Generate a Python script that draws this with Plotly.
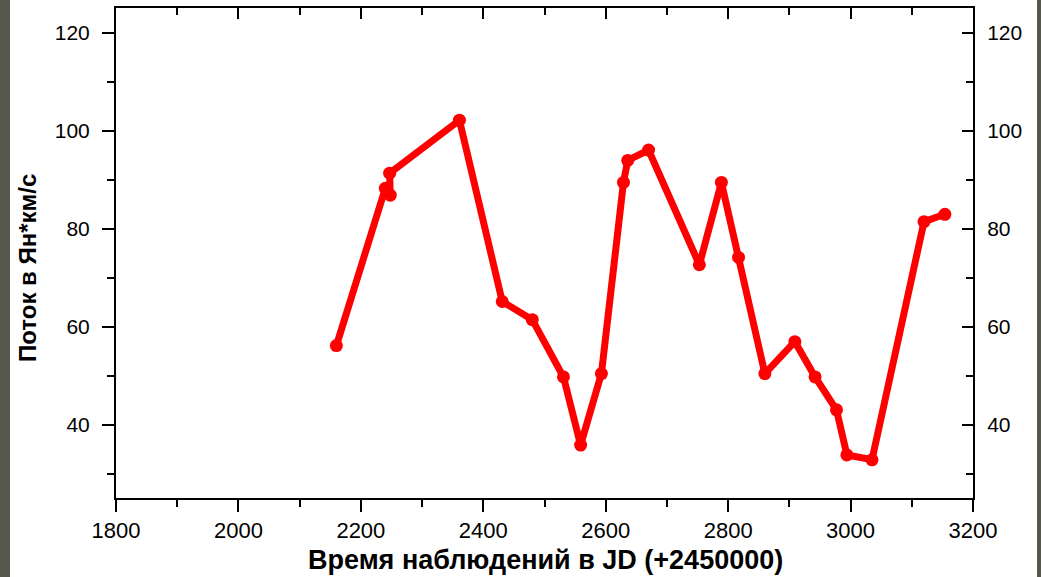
import plotly.graph_objects as go

# Data
jd = [2160, 2240, 2248, 2247, 2361, 2431, 2480, 2531, 2559, 2593, 2629, 2636,
      2670, 2753, 2789, 2817, 2860, 2909, 2942, 2977, 2994, 3035, 3120, 3154]
flux = [56.1, 88.2, 86.8, 91.3, 102.1, 65.1, 61.4, 49.7, 35.8, 50.4, 89.4, 93.9,
        96.0, 72.6, 89.4, 74.1, 50.4, 56.9, 49.7, 43.0, 33.8, 32.8, 81.4, 82.9]

x_title = "Время наблюдений в JD (+2450000)"
y_title = "Поток в Ян*км/с"
x_range = [1800, 3200]
y_range = [25, 125]

W, H = 1041, 577
ML, MR, MT, MB = 116, 68, 8, 79
pw, ph = W - ML - MR, H - MT - MB

def px2paper_x(px):
    return (px - ML) / pw

def px2paper_y(py):
    return (H - MB - py) / ph

fig = go.Figure()
fig.add_trace(go.Scatter(
    x=jd, y=flux, mode="lines+markers",
    line=dict(color="#ff0000", width=7),
    marker=dict(color="#ff0000", size=13, symbol="circle"),
    showlegend=False, hoverinfo="x+y",
))
# invisible trace to anchor the mirrored axes
fig.add_trace(go.Scatter(x=[jd[0]], y=[flux[0]], xaxis="x2", yaxis="y2",
                         mode="markers", marker=dict(opacity=0), showlegend=False,
                         hoverinfo="skip"))

fam = "Liberation Sans, Arial, sans-serif"
xtickfont = dict(family=fam, size=22, color="#000")
ytickfont = dict(family=fam, size=21, color="#000")

common = dict(showline=True, linecolor="#000", linewidth=2, showgrid=False,
              zeroline=False, tickcolor="#000", tickwidth=2)

fig.update_layout(
    width=W, height=H,
    margin=dict(l=ML, r=MR, t=MT, b=MB),
    paper_bgcolor="#56584b",
    plot_bgcolor="#ffffff",
    xaxis=dict(range=x_range, dtick=200, ticks="outside", ticklen=12,
               minor=dict(dtick=100, ticks="outside", ticklen=7, tickwidth=2, tickcolor="#000"),
               tickfont=xtickfont, **common),
    yaxis=dict(range=y_range, tick0=0, dtick=20, ticks="outside", ticklen=12,
               ticklabelstandoff=8,
               minor=dict(dtick=10, ticks="outside", ticklen=7, tickwidth=2, tickcolor="#000"),
               tickfont=ytickfont, **common),
    xaxis2=dict(range=x_range, overlaying="x", side="top", matches="x", anchor="y",
                dtick=200, ticks="inside", ticklen=11, showticklabels=False,
                minor=dict(dtick=100, ticks="inside", ticklen=7, tickwidth=2, tickcolor="#000"),
                **common),
    yaxis2=dict(range=y_range, overlaying="y", side="right", matches="y", anchor="x",
                tick0=0, dtick=20, ticks="inside", ticklen=11, showticklabels=True,
                ticklabelstandoff=8,
                minor=dict(dtick=10, ticks="inside", ticklen=7, tickwidth=2, tickcolor="#000"),
                tickfont=ytickfont, **common),
    shapes=[dict(type="rect", xref="paper", yref="paper", layer="below",
                 x0=px2paper_x(10), x1=px2paper_x(1037),
                 y0=px2paper_y(H + 5), y1=px2paper_y(-5),
                 fillcolor="#ffffff", line=dict(width=0))],
    annotations=[
        dict(text="<b>" + x_title + "</b>", xref="paper", yref="paper",
             x=px2paper_x(545), y=px2paper_y(560), xanchor="center", yanchor="middle",
             borderpad=0,
             showarrow=False, font=dict(family=fam, size=27, color="#000")),
        dict(text="<b>" + y_title + "</b>", xref="paper", yref="paper",
             x=px2paper_x(28), y=px2paper_y(268), xanchor="center", yanchor="middle",
             textangle=-90, showarrow=False,
             font=dict(family=fam, size=24, color="#000")),
    ],
)

fig.write_html("out.html", config={"displayModeBar": False},
               post_script="document.body.style.margin='0';document.body.style.padding='0';")
